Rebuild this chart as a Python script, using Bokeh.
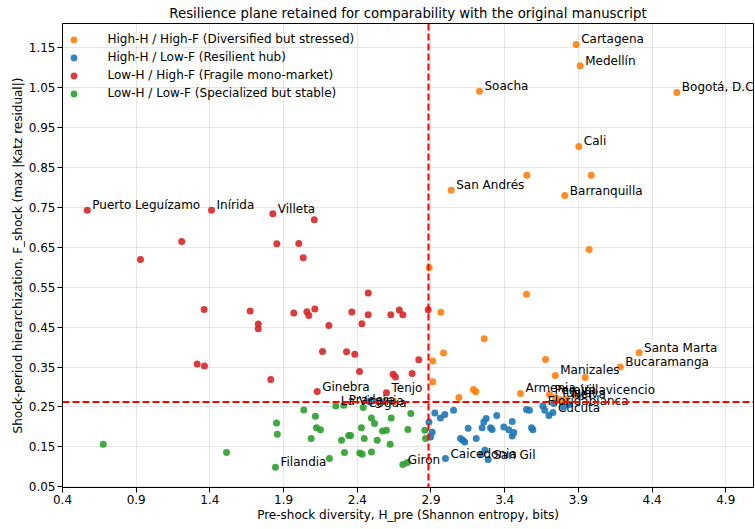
from bokeh.plotting import figure
from bokeh.models import ColumnDataSource, Span, FixedTicker, PrintfTickFormatter
from bokeh.core.properties import value
from bokeh.embed import file_html
from bokeh.resources import INLINE

# ---------------- data ----------------
X_TICKS = [0.4, 0.9, 1.4, 1.9, 2.4, 2.9, 3.4, 3.9, 4.4, 4.9]
Y_TICKS = [0.05, 0.15, 0.25, 0.35, 0.45, 0.55, 0.65, 0.75, 0.85, 0.95, 1.05, 1.15]
H_THRESHOLD = 2.883
F_THRESHOLD = 0.2625

hh_hf_names = ["Cartagena", "Medellín", "Soacha", "Bogotá, D.C", "Cali", "", "", "Barranquilla",
               "San Andrés", "", "", "", "", "", "", "", "", "", "Manizales", "", "Bucaramanga",
               "Santa Marta", "", "", "", "Armenia", "Pereira", "Tunja", "Neiva", "Villavicencio", ""]
hh_hf_x = [3.885, 3.912, 3.229, 4.568, 3.903, 3.550, 3.987, 3.808,
           3.037, 3.973, 2.888, 2.967, 3.548, 3.261, 2.985, 2.912, 2.912, 3.677, 3.743, 3.946, 4.184,
           4.312, 3.089, 3.188, 3.204, 3.507, 3.704, 3.745, 3.820, 3.880, 3.780]
hh_hf_y = [1.157, 1.104, 1.040, 1.037, 0.902, 0.830, 0.830, 0.779,
           0.792, 0.644, 0.599, 0.487, 0.532, 0.421, 0.385, 0.365, 0.313, 0.369, 0.329, 0.324, 0.350,
           0.386, 0.274, 0.294, 0.288, 0.284, 0.281, 0.273, 0.270, 0.279, 0.268]

hh_lf_names = ["", "Floridablanca", "", "Cúcuta", "", "", "", "", "", "", "", "", "", "", "", "", "",
               "", "", "", "", "", "", "", "", "", "", "", "", "", "", "", "Caicedonia", "San Gil",
               "", "", "", ""]
hh_lf_x = [3.733, 3.659, 3.672, 3.727, 3.700, 3.548, 3.568, 3.582, 3.591, 3.451, 3.394, 3.428, 3.462,
           3.451, 3.346, 3.304, 3.315, 3.258, 3.274, 3.247, 3.207, 3.152, 3.100, 3.116, 3.129, 3.053,
           2.994, 2.964, 2.926, 2.886, 2.908, 2.897, 2.998, 3.288, 3.266, 3.243, 3.800, 3.840]
hh_lf_y = [0.2585, 0.2525, 0.242, 0.236, 0.229, 0.2435, 0.242, 0.198, 0.193, 0.214, 0.200, 0.193, 0.186,
           0.1775, 0.229, 0.198, 0.194, 0.2125, 0.221, 0.198, 0.171, 0.197, 0.171, 0.167, 0.1625, 0.242,
           0.231, 0.2225, 0.235, 0.2125, 0.187, 0.175, 0.121, 0.1185, 0.142, 0.132, 0.250, 0.256]

lh_hf_names = ["Puerto Leguízamo", "Inírida", "Villeta", "", "", "", "", "", "", "", "", "", "", "",
               "", "", "", "", "", "", "", "", "", "", "", "", "", "", "", "", "", "", "", "", "",
               "", "", "Ginebra", "Tenjo"]
lh_hf_x = [0.568, 1.411, 1.827, 2.108, 1.209, 1.854, 2.003, 2.033, 0.929, 2.474, 1.361, 1.673, 1.969,
           2.058, 2.071, 2.112, 2.363, 2.474, 2.627, 2.685, 2.709, 1.728, 1.728, 2.207, 2.431, 2.164,
           2.327, 2.383, 2.817, 1.314, 1.363, 1.813, 2.415, 2.643, 2.659, 2.772, 2.881, 2.128, 2.598]
lh_hf_y = [0.7425, 0.742, 0.7335, 0.7185, 0.664, 0.6585, 0.659, 0.6235, 0.619, 0.535, 0.494, 0.490,
           0.485, 0.488, 0.479, 0.495, 0.4875, 0.481, 0.481, 0.4925, 0.481, 0.4575, 0.446, 0.454, 0.458,
           0.389, 0.388, 0.382, 0.368, 0.3575, 0.3525, 0.319, 0.3385, 0.332, 0.325, 0.334, 0.4935,
           0.2885, 0.2855]

lh_lf_names = ["", "", "Filandia", "", "", "", "", "", "", "", "La Virginia", "Pradera", "", "", "", "",
               "", "", "", "Cogua", "", "", "", "", "", "", "", "", "", "", "", "", "Girón", "", "", ""]
lh_lf_x = [0.676, 1.513, 1.845, 1.852, 1.857, 2.037, 2.116, 2.123, 2.150, 2.087, 2.254, 2.308, 2.293,
           2.342, 2.354, 2.313, 2.211, 2.417, 2.433, 2.440, 2.428, 2.447, 2.496, 2.517, 2.496, 2.535,
           2.571, 2.598, 2.623, 2.630, 2.743, 2.763, 2.709, 2.739, 2.858, 2.863]
lh_lf_y = [0.157, 0.136, 0.099, 0.210, 0.182, 0.2425, 0.227, 0.198, 0.193, 0.171, 0.2525, 0.2545, 0.167,
           0.1785, 0.179, 0.136, 0.121, 0.135, 0.132, 0.2485, 0.198, 0.171, 0.2225, 0.209, 0.1375, 0.167,
           0.190, 0.192, 0.157, 0.2225, 0.194, 0.2335, 0.106, 0.111, 0.192, 0.171]

groups = [
    ("High-H / High-F (Diversified but stressed)", "#ff7f0e", hh_hf_x, hh_hf_y, hh_hf_names),
    ("High-H / Low-F (Resilient hub)", "#1f77b4", hh_lf_x, hh_lf_y, hh_lf_names),
    ("Low-H / High-F (Fragile mono-market)", "#d62728", lh_hf_x, lh_hf_y, lh_hf_names),
    ("Low-H / Low-F (Specialized but stable)", "#2ca02c", lh_lf_x, lh_lf_y, lh_lf_names),
]

FONT = "DejaVu Sans"

p = figure(width=755, height=529, x_range=(0.4, 5.088), y_range=(0.0486, 1.2094),
           output_backend="svg", toolbar_location=None,
           title="Resilience plane retained for comparability with the original manuscript",
           min_border_left=62, min_border_right=2, min_border_top=23, min_border_bottom=42)

p.title.text_font = FONT
p.title.text_font_size = "13.3px"
p.title.text_font_style = "normal"
p.title.align = "center"
p.title.standoff = 6
p.title.text_color = "black"

p.outline_line_color = "black"
p.outline_line_width = 1
p.outline_line_alpha = 1

for ax in (p.xaxis, p.yaxis):
    ax.axis_line_color = "black"
    ax.major_tick_line_color = "black"
    ax.major_tick_out = 5
    ax.major_tick_in = 0
    ax.minor_tick_line_color = None
    ax.major_label_text_font = FONT
    ax.major_label_text_font_size = "12px"
    ax.major_label_text_color = "black"
    ax.major_label_standoff = 2
    ax.axis_label_text_font = FONT
    ax.axis_label_text_font_size = "12px"
    ax.axis_label_text_font_style = "normal"
    ax.axis_label_text_color = "black"

p.xaxis.axis_label_standoff = 1
p.yaxis.axis_label_standoff = 1

p.xaxis.ticker = FixedTicker(ticks=X_TICKS)
p.yaxis.ticker = FixedTicker(ticks=Y_TICKS)
p.xaxis.formatter = PrintfTickFormatter(format="%.1f")
p.yaxis.formatter = PrintfTickFormatter(format="%.2f")
p.xaxis.axis_label = "Pre-shock diversity, H_pre (Shannon entropy, bits)"
p.yaxis.axis_label = "Shock-period hierarchization, F_shock (max |Katz residual|)"

p.grid.grid_line_color = "#b0b0b0"
p.grid.grid_line_alpha = 0.3
p.grid.grid_line_width = 1

for label, color, xs, ys, names in groups:
    src = ColumnDataSource(dict(x=xs, y=ys))
    p.scatter("x", "y", source=src, size=7, fill_color=color, fill_alpha=0.9,
              line_color=None, legend_label=label)

p.add_layout(Span(location=H_THRESHOLD, dimension="height", line_color="red",
                  line_dash="7 3", line_width=2))
p.add_layout(Span(location=F_THRESHOLD, dimension="width", line_color="red",
                  line_dash="7 3", line_width=2))

for label, color, xs, ys, names in groups:
    lx = [x for x, n in zip(xs, names) if n]
    ly = [y for y, n in zip(ys, names) if n]
    ln = [n for n in names if n]
    lsrc = ColumnDataSource(dict(x=lx, y=ly, t=ln))
    p.text("x", "y", text="t", source=lsrc, x_offset=5, y_offset=-5,
           text_font=value(FONT), text_font_size="12px", text_color="black",
           text_baseline="alphabetic", text_align="left")

lg = p.legend[0]
lg.location = (2.5, 385.5)
lg.margin = 0
lg.padding = 0
lg.spacing = 1
lg.glyph_height = 17
lg.glyph_width = 17
lg.label_height = 17
lg.label_standoff = 26
lg.label_text_font = FONT
lg.label_text_font_size = "12px"
lg.label_text_color = "black"
lg.border_line_alpha = 0
lg.background_fill_alpha = 0

open("out.html", "w").write(file_html(p, INLINE))
